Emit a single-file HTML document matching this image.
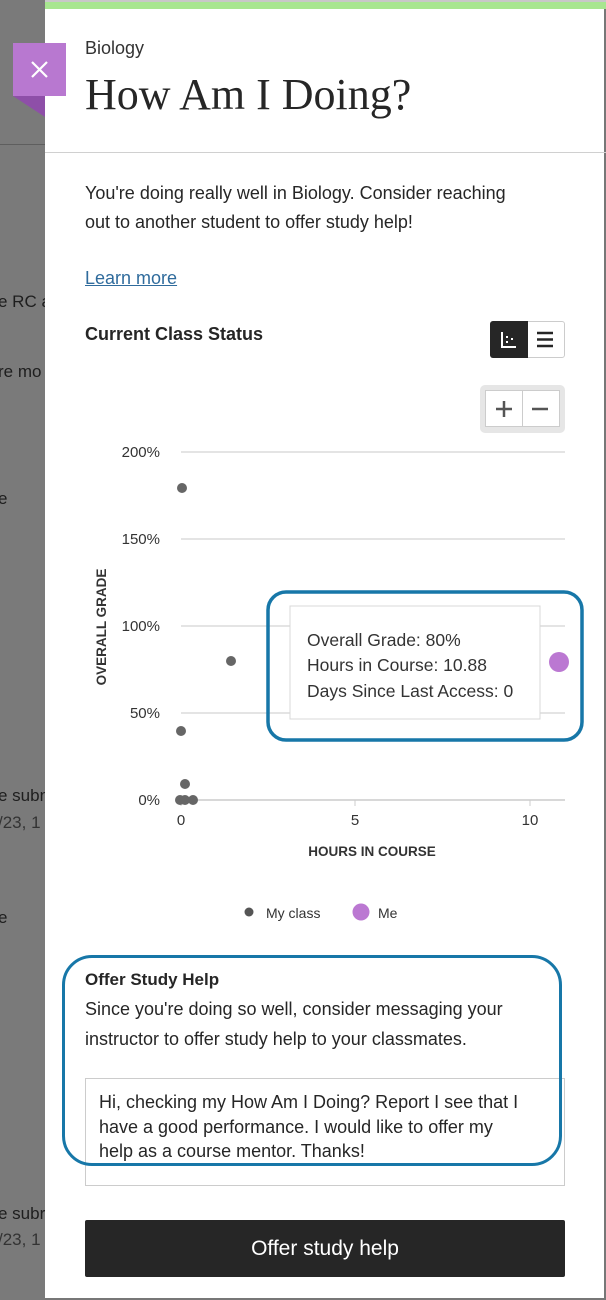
<!DOCTYPE html>
<html><head><meta charset="utf-8"><style>
*{margin:0;padding:0;box-sizing:border-box}
body{width:606px;height:1300px;position:relative;background:#7b7b7b;font-family:"Liberation Sans",sans-serif;overflow:hidden;color:#262626}
.a{position:absolute}
.bg{font-size:17px;color:#1e1e1e;left:-2px}
.panel{left:45px;top:0;width:561px;height:1300px;background:#fff;border-right:2px solid #777;border-bottom:2px solid #777}
.t{font-size:18px;line-height:29px;color:#262626}
</style></head><body>
<div class="a" style="left:0;top:0;width:45px;height:1300px;background:#7a7a7a"></div>
<div class="a" style="left:0;top:144px;width:45px;height:1px;background:#5e5e5e"></div>
<div class="a bg" style="top:292px">e RC a</div>
<div class="a bg" style="top:362px">re mo</div>
<div class="a bg" style="top:489px">e</div>
<div class="a bg" style="top:786px">e subn</div>
<div class="a bg" style="top:813px;color:#333">/23, 1</div>
<div class="a bg" style="top:908px">e</div>
<div class="a bg" style="top:1204px">e subr</div>
<div class="a bg" style="top:1230px;color:#333">/23, 1</div>

<div class="a panel"></div>
<div class="a" style="left:45px;top:0;width:561px;height:9px;background:#a8e690;border-top:2px solid #c8c8c8"></div>
<div class="a" style="left:45px;top:152px;width:561px;height:1px;background:#d0d0d0"></div>
<div class="a" style="left:13px;top:96px;width:0;height:0;border-top:21px solid #8e4fa8;border-left:32px solid transparent"></div>
<div class="a" style="left:13px;top:43px;width:53px;height:53px;background:#b878d0"></div>
<svg class="a" style="left:13px;top:43px" width="53" height="53"><path d="M19 19L34 34M34 19L19 34" stroke="#fff" stroke-width="2.2"/></svg>

<div class="a" style="left:85px;top:38px;font-size:18px;color:#333">Biology</div>
<div class="a" style="left:85px;top:69px;font-size:44px;font-family:'Liberation Serif',serif;color:#262626">How Am I Doing?</div>

<div class="a t" style="left:85px;top:179px;width:440px">You're doing really well in Biology. Consider reaching out to another student to offer study help!</div>
<div class="a" style="left:85px;top:268px;font-size:18px;color:#2f6b9c;text-decoration:underline">Learn more</div>
<div class="a" style="left:85px;top:324px;font-size:18px;font-weight:bold;color:#262626">Current Class Status</div>

<div class="a" style="left:490px;top:321px;width:75px;height:37px;border:1px solid #ccc;border-radius:3px;background:#fff"></div>
<div class="a" style="left:490px;top:321px;width:38px;height:37px;background:#262626;border-radius:3px 0 0 3px"></div>
<svg class="a" style="left:490px;top:321px" width="75" height="37"><path d="M12 11 V26 H26" stroke="#fff" stroke-width="2" fill="none"/><rect x="16" y="15" width="2" height="2" fill="#fff"/><rect x="16" y="20" width="2" height="2" fill="#fff"/><rect x="21" y="17" width="2" height="2" fill="#fff"/><path d="M47 12h16M47 18.5h16M47 25h16" stroke="#262626" stroke-width="2.5"/></svg>
<div class="a" style="left:480px;top:385px;width:85px;height:48px;background:#e6e6e6;border-radius:5px"></div>
<div class="a" style="left:485px;top:390px;width:75px;height:37px;background:#fff;border:1px solid #ccc"></div>
<div class="a" style="left:522px;top:390px;width:1px;height:37px;background:#ccc"></div>
<svg class="a" style="left:485px;top:390px" width="75" height="37"><path d="M11 19h16M19 11v16M47 19h16" stroke="#555" stroke-width="2.5"/></svg>

<svg class="a" style="left:0;top:0" width="606" height="940">
<g stroke="#dcdcdc" stroke-width="1.5"><line x1="181" x2="565" y1="452" y2="452"/><line x1="181" x2="565" y1="539" y2="539"/><line x1="181" x2="565" y1="626" y2="626"/><line x1="181" x2="565" y1="713" y2="713"/><line x1="181" x2="565" y1="800" y2="800" stroke="#ccc"/></g>
<g stroke="#ccc"><line x1="181" x2="181" y1="800" y2="806"/><line x1="355" x2="355" y1="800" y2="806"/><line x1="530" x2="530" y1="800" y2="806"/></g>
<g font-family="Liberation Sans,sans-serif" font-size="15" fill="#333" text-anchor="end"><text x="160" y="457">200%</text><text x="160" y="544">150%</text><text x="160" y="631">100%</text><text x="160" y="718">50%</text><text x="160" y="805">0%</text></g>
<g font-family="Liberation Sans,sans-serif" font-size="15" fill="#333" text-anchor="middle"><text x="181" y="825">0</text><text x="355" y="825">5</text><text x="530" y="825">10</text></g>
<text x="372" y="856" font-family="Liberation Sans,sans-serif" font-size="13.5" font-weight="bold" fill="#333" text-anchor="middle">HOURS IN COURSE</text>
<text transform="translate(106,627) rotate(-90)" font-family="Liberation Sans,sans-serif" font-size="13.5" font-weight="bold" fill="#333" text-anchor="middle">OVERALL GRADE</text>
<g fill="#666"><circle cx="182" cy="488" r="5"/><circle cx="231" cy="661" r="5"/><circle cx="181" cy="731" r="5"/><circle cx="185" cy="784" r="5"/><circle cx="180" cy="800" r="5"/><circle cx="185" cy="800" r="5"/><circle cx="193" cy="800" r="5"/></g>
<circle cx="559" cy="662" r="10" fill="#bb78d2"/>
<rect x="268" y="592" width="314" height="148" rx="18" fill="none" stroke="#1777a8" stroke-width="3.5"/>
<rect x="290" y="606" width="250" height="113" fill="#fff" stroke="#d8d8d8"/>
<g font-family="Liberation Sans,sans-serif" font-size="17.5" fill="#333"><text x="307" y="646">Overall Grade: 80%</text><text x="307" y="671">Hours in Course: 10.88</text><text x="307" y="697">Days Since Last Access: 0</text></g>
<circle cx="249" cy="912" r="4.5" fill="#555"/>
<text x="266" y="918" font-family="Liberation Sans,sans-serif" font-size="14" fill="#333">My class</text>
<circle cx="361" cy="912" r="8.5" fill="#bb78d2"/>
<text x="378" y="918" font-family="Liberation Sans,sans-serif" font-size="14" fill="#333">Me</text>
</svg>

<div class="a" style="left:85px;top:970px;font-size:17px;font-weight:bold">Offer Study Help</div>
<div class="a t" style="left:85px;top:994px;width:470px;line-height:30px">Since you're doing so well, consider messaging your instructor to offer study help to your classmates.</div>
<div class="a" style="left:85px;top:1078px;width:480px;height:108px;border:1px solid #ccc;background:#fff"></div>
<div class="a" style="left:99px;top:1090px;width:425px;font-size:18px;line-height:24.5px;color:#262626">Hi, checking my How Am I Doing? Report I see that I have a good performance. I would like to offer my help as a course mentor. Thanks!</div>
<div class="a" style="left:62px;top:955px;width:500px;height:211px;border:3.5px solid #1777a8;border-radius:30px"></div>
<div class="a" style="left:85px;top:1220px;width:480px;height:57px;background:#262626;border-radius:2px;color:#fff;font-size:21px;text-align:center;line-height:57px">Offer study help</div>
</body></html>
